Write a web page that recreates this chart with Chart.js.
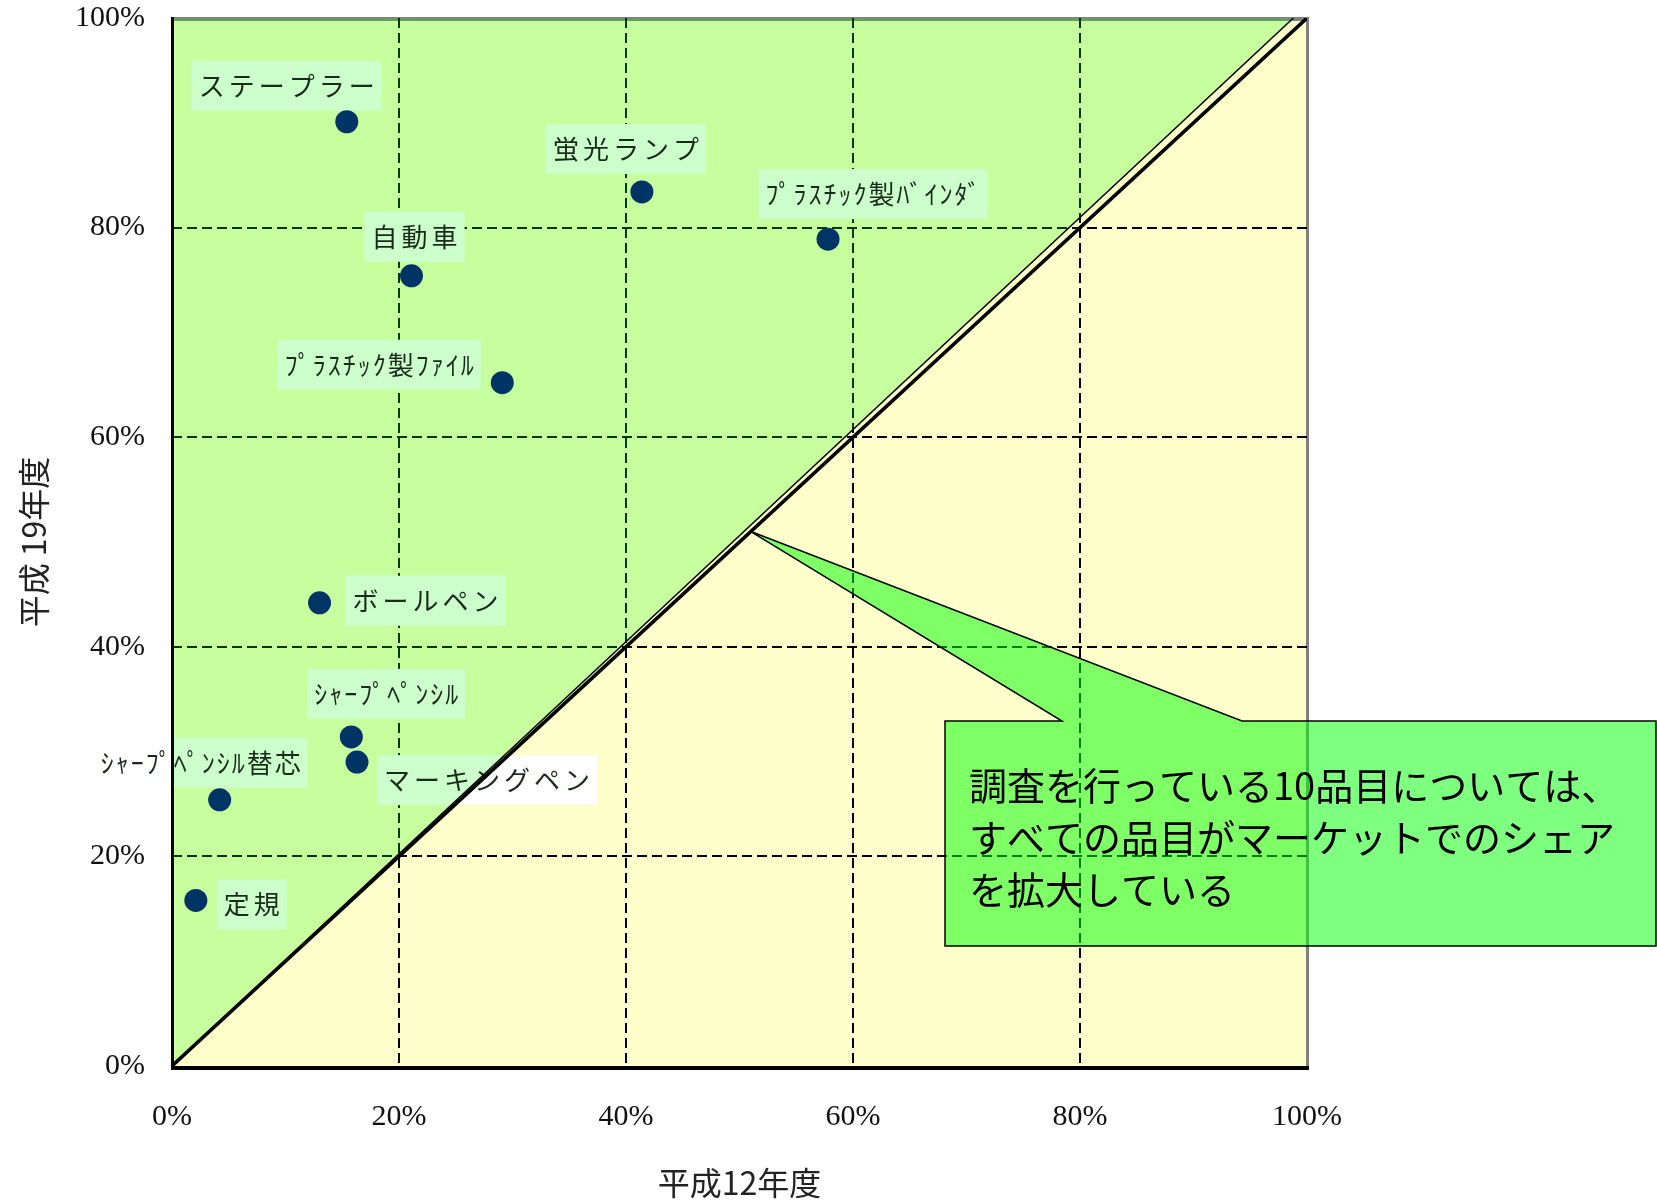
<!DOCTYPE html>
<html lang="ja">
<head>
<meta charset="utf-8">
<script src="https://cdn.jsdelivr.net/npm/chart.js@4.4.1/dist/chart.umd.min.js"></script>
<style>
  html, body { margin: 0; padding: 0; background: #fff; }
  #wrap { width: 1657px; height: 1202px; }
</style>
</head>
<body>
<div id="wrap"><canvas id="chart" width="1657" height="1202"></canvas></div>
<script>
// 品目ごとのマーケットシェア (%)
const items = ['ステープラー', '蛍光ランプ', 'ﾌﾟﾗｽﾁｯｸ製ﾊﾞｲﾝﾀﾞ', '自動車', 'ﾌﾟﾗｽﾁｯｸ製ﾌｧｲﾙ',
               'ボールペン', 'ｼｬｰﾌﾟﾍﾟﾝｼﾙ', 'マーキングペン', 'ｼｬｰﾌﾟﾍﾟﾝｼﾙ替芯', '定規'];
const shareH12 = [15.4, 41.4, 57.8, 21.1, 29.1, 13.0, 15.8, 16.3, 4.2, 2.1];
const shareH19 = [90.1, 83.4, 78.9, 75.4, 65.2, 44.2, 31.4, 29.0, 25.4, 15.8];

// 対角線 (H12 = H19) と緑の領域の境界
const diagX = [0, 100];
const diagY = [0, 100];
const edgeX = [0, 98.8];
const edgeY = [0, 100];

const tickValues = [0, 20, 40, 60, 80, 100];
const tickLabels = ['0%', '20%', '40%', '60%', '80%', '100%'];

const calloutLines = ['調査を行っている10品目については、', 'すべての品目がマーケットでのシェア', 'を拡大している'];
const calloutTip = [51, 51];

// ラベルの位置 (点からのずれ, px)
const labelOffsets = [[-60, -36], [-16, -43], [45, -45], [3, -39], [-123, -18],
                      [106, -2], [35, -43], [130, 18], [-19, -37], [56, 4]];

const toPoints = (xs, ys) => xs.map((x, i) => ({ x: x, y: ys[i] }));

const paintPlot = {
  id: 'paintPlot',
  beforeDraw(chart) {
    const c = chart.ctx, a = chart.chartArea;
    c.save();
    c.fillStyle = '#fff';
    c.fillRect(0, 0, chart.width, chart.height);
    c.fillStyle = '#ffffcc';
    c.fillRect(a.left, a.top, a.right - a.left, a.bottom - a.top);
    c.fillStyle = '#808080';
    c.fillRect(a.left, a.top - 1, a.right - a.left, 4);
    c.fillRect(a.right - 1, a.top - 1, 3, a.bottom - a.top + 1);
    c.restore();
  },
  beforeDatasetsDraw(chart) {
    const c = chart.ctx, a = chart.chartArea;
    const xs = chart.scales.x, ys = chart.scales.y;
    c.save();
    c.font = '26px "Noto Sans CJK JP"';
    c.textBaseline = 'middle';
    c.textAlign = 'left';
    items.forEach((name, i) => {
      const px = xs.getPixelForValue(shareH12[i]);
      const py = ys.getPixelForValue(shareH19[i]);
      const cx = px + labelOffsets[i][0], cy = py + labelOffsets[i][1];
      const sp = /[\uFF61-\uFF9F]/.test(name) ? 2 : 4;
      c.letterSpacing = sp + 'px';
      const w = c.measureText(name).width - sp;
      const bw = w + 14, bh = 50;
      c.save();
      c.beginPath();
      c.rect(a.left, a.top, a.right - a.left, a.bottom - a.top);
      c.clip();
      c.fillStyle = '#ccffcc';
      c.fillRect(cx - bw / 2, cy - bh / 2, bw, bh);
      c.beginPath();
      c.moveTo(xs.getPixelForValue(0), ys.getPixelForValue(0));
      c.lineTo(xs.getPixelForValue(100), ys.getPixelForValue(0));
      c.lineTo(xs.getPixelForValue(100), ys.getPixelForValue(100));
      c.closePath();
      c.clip();
      c.fillStyle = '#fff';
      c.fillRect(cx - bw / 2, cy - bh / 2, bw, bh);
      c.restore();
      c.fillStyle = '#1a2a1a';
      c.fillText(name, cx - w / 2, cy);
    });
    c.letterSpacing = '0px';
    c.restore();
  },
  afterDatasetsDraw(chart) {
    const c = chart.ctx, a = chart.chartArea;
    c.save();
    c.fillStyle = '#000';
    c.fillRect(a.left - 1, a.top - 1, 3, a.bottom - a.top + 5);
    c.fillRect(a.left - 1, a.bottom, a.right - a.left + 3, 4);
    c.restore();
  },
  afterDraw(chart) {
    const c = chart.ctx;
    const tx = chart.scales.x.getPixelForValue(calloutTip[0]);
    const ty = chart.scales.y.getPixelForValue(calloutTip[1]);
    c.save();
    c.beginPath();
    c.moveTo(945, 721);
    c.lineTo(1062, 721);
    c.lineTo(tx, ty);
    c.lineTo(1242, 721);
    c.lineTo(1656, 721);
    c.lineTo(1656, 946);
    c.lineTo(945, 946);
    c.closePath();
    c.fillStyle = 'rgba(0,255,0,0.5)';
    c.fill();
    c.lineWidth = 1.5;
    c.strokeStyle = '#000';
    c.stroke();
    c.fillStyle = '#000';
    c.font = '38px "Noto Sans CJK JP"';
    c.textBaseline = 'middle';
    c.textAlign = 'left';
    calloutLines.forEach((t, i) => c.fillText(t, 969, 786 + i * 52));
    c.restore();
  }
};

const gridColor = (g) => (g.tick && (g.tick.value === 0 || g.tick.value === 100)) ? 'rgba(0,0,0,0)' : '#000';
const noPad = (s) => { s.paddingTop = 0; s.paddingBottom = 0; s.paddingLeft = 0; s.paddingRight = 0; };

new Chart(document.getElementById('chart'), {
  type: 'scatter',
  data: {
    datasets: [
      {
        label: '品目',
        data: toPoints(shareH12, shareH19),
        backgroundColor: '#003366',
        borderWidth: 0,
        pointRadius: 11.5,
        pointHoverRadius: 11.5
      },
      {
        type: 'line',
        label: 'diag',
        data: toPoints(diagX, diagY),
        borderColor: '#000',
        borderWidth: 3.5,
        pointRadius: 0,
        tension: 0,
        fill: false
      },
      {
        type: 'line',
        label: 'edge',
        data: toPoints(edgeX, edgeY),
        borderColor: '#000',
        borderWidth: 1.5,
        pointRadius: 0,
        tension: 0,
        fill: 'end',
        backgroundColor: 'rgba(0,255,0,0.22)'
      }
    ]
  },
  options: {
    responsive: false,
    animation: false,
    devicePixelRatio: 1,
    layout: { padding: { top: 18, right: 350, left: 0, bottom: 0 } },
    plugins: {
      legend: { display: false },
      tooltip: { enabled: false },
      filler: { drawTime: 'beforeDatasetsDraw' }
    },
    scales: {
      x: {
        type: 'linear', min: 0, max: 100,
        afterBuildTicks: s => { s.ticks = tickValues.map(v => ({ value: v })); },
        afterFit: s => { s.height = 136; noPad(s); },
        ticks: {
          callback: (v, i) => tickLabels[i],
          font: { family: 'Liberation Serif', size: 30 },
          color: '#111', padding: 33, maxRotation: 0, autoSkip: false
        },
        grid: { color: gridColor, lineWidth: 2, drawTicks: false },
        border: { display: false, dash: [10, 5] },
        title: {
          display: true, text: '平成12年度', color: '#222',
          font: { family: 'Noto Sans CJK JP', size: 32 }, padding: 0
        }
      },
      y: {
        type: 'linear', min: 0, max: 100,
        afterBuildTicks: s => { s.ticks = tickValues.map(v => ({ value: v })); },
        afterFit: s => { s.width = 172; noPad(s); },
        ticks: {
          callback: (v, i) => tickLabels[i],
          font: { family: 'Liberation Serif', size: 30 },
          color: '#111', padding: 27, autoSkip: false
        },
        grid: { color: gridColor, lineWidth: 2, drawTicks: false },
        border: { display: false, dash: [10, 5] },
        title: {
          display: true, text: '平成 19年度', color: '#222',
          font: { family: 'Noto Sans CJK JP', size: 32 }, padding: { top: 15, bottom: 0 }
        }
      }
    }
  },
  plugins: [paintPlot]
});
</script>
</body>
</html>
